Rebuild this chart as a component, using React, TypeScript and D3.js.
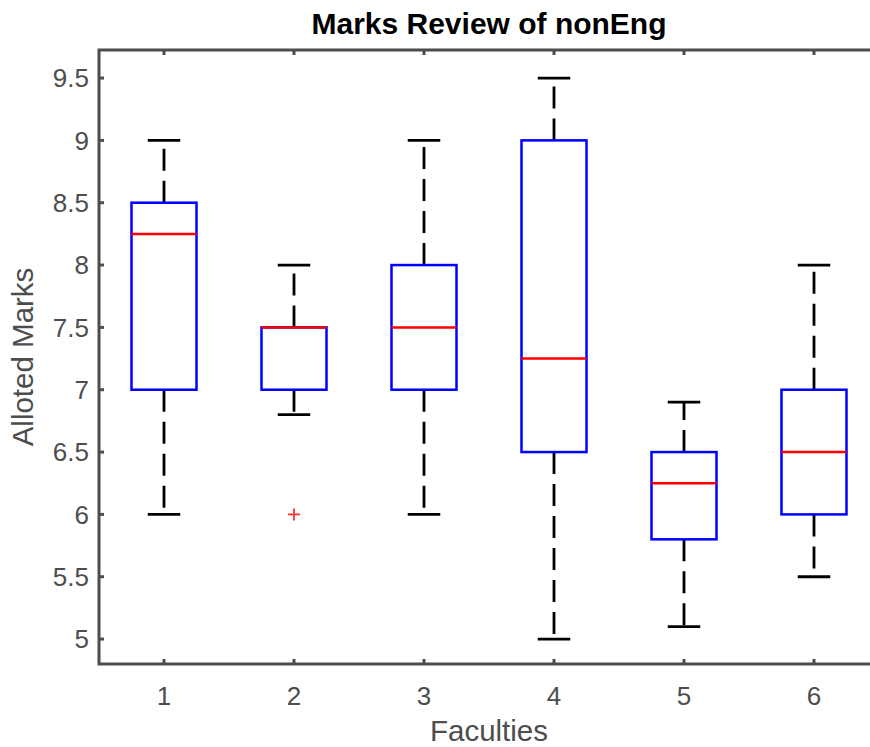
import React from "react";
import * as d3 from "d3";

const categories = [1, 2, 3, 4, 5, 6];
const lowerWhisker = [6, 6.8, 6, 5, 5.1, 5.5];
const q1 = [7, 7, 7, 6.5, 5.8, 6];
const medians = [8.25, 7.5, 7.5, 7.25, 6.25, 6.5];
const q3 = [8.5, 7.5, 8, 9, 6.5, 7];
const upperWhisker = [9, 8, 9, 9.5, 6.9, 8];
const outliers = [{ cat: 2, value: 6 }];
const yTicks = [5, 5.5, 6, 6.5, 7, 7.5, 8, 8.5, 9, 9.5];
const xTicks = [1, 2, 3, 4, 5, 6];
const title = "Marks Review of nonEng";
const xLabel = "Faculties";
const yLabel = "Alloted Marks";

export default function App() {
  const W = 870;
  const H = 747;
  const left = 99;
  const right = 879;
  const top = 50;
  const bottom = 664;
  const x = d3.scaleLinear().domain([0.5, 6.5]).range([left, right]);
  const y = d3.scaleLinear().domain([4.8, 9.725]).range([bottom, top]);
  const font = "'Liberation Sans', Arial, Helvetica, sans-serif";
  const axisColor = "#4d4d4d";
  const boxHalf = 0.25;
  const capHalf = 0.125;

  return (
    <svg
      width={W}
      height={H}
      style={{ position: "absolute", left: 0, top: 0, background: "#fff" }}
      fontFamily={font}
    >
      <rect x={0} y={0} width={W} height={H} fill="#fff" />
      {categories.map((c, i) => {
        const cx = x(c);
        return (
          <g key={c}>
            <line x1={cx} x2={cx} y1={y(q3[i])} y2={y(upperWhisker[i])} stroke="#000" strokeWidth={2.8} strokeDasharray="22 10" />
            <line x1={cx} x2={cx} y1={y(q1[i])} y2={y(lowerWhisker[i])} stroke="#000" strokeWidth={2.8} strokeDasharray="22 10" />
            <line x1={x(c - capHalf)} x2={x(c + capHalf)} y1={y(upperWhisker[i])} y2={y(upperWhisker[i])} stroke="#000" strokeWidth={2.8} />
            <line x1={x(c - capHalf)} x2={x(c + capHalf)} y1={y(lowerWhisker[i])} y2={y(lowerWhisker[i])} stroke="#000" strokeWidth={2.8} />
            <rect
              x={x(c - boxHalf)}
              y={y(q3[i])}
              width={x(c + boxHalf) - x(c - boxHalf)}
              height={y(q1[i]) - y(q3[i])}
              fill="none"
              stroke="#0000ff"
              strokeWidth={2.5}
            />
            <line x1={x(c - boxHalf)} x2={x(c + boxHalf)} y1={y(medians[i])} y2={y(medians[i])} stroke="#ff0000" strokeWidth={2.5} />
          </g>
        );
      })}
      {outliers.map((o, i) => (
        <g key={i} stroke="#ff3030" strokeWidth={1.8}>
          <line x1={x(o.cat) - 6} x2={x(o.cat) + 6} y1={y(o.value)} y2={y(o.value)} />
          <line x1={x(o.cat)} x2={x(o.cat)} y1={y(o.value) - 6} y2={y(o.value) + 6} />
        </g>
      ))}
      <path d={`M${right},${top}H${left}V${bottom}H${right}`} fill="none" stroke={axisColor} strokeWidth={3} />
      {xTicks.map((t) => (
        <g key={t}>
          <line x1={x(t)} x2={x(t)} y1={bottom} y2={bottom - 5} stroke={axisColor} strokeWidth={3} />
          <line x1={x(t)} x2={x(t)} y1={top} y2={top + 5} stroke={axisColor} strokeWidth={3} />
          <text x={x(t)} y={705} textAnchor="middle" fontSize={26} fill={axisColor}>
            {t}
          </text>
        </g>
      ))}
      {yTicks.map((t) => (
        <g key={t}>
          <line x1={left} x2={left + 5} y1={y(t)} y2={y(t)} stroke={axisColor} strokeWidth={3} />
          <text x={89} y={y(t) + 9.4} textAnchor="end" fontSize={26} fill={axisColor}>
            {String(t)}
          </text>
        </g>
      ))}
      <text x={(left + right) / 2} y={34} textAnchor="middle" fontSize={30} fontWeight="bold" fill="#000">
        {title}
      </text>
      <text x={(left + right) / 2} y={741} textAnchor="middle" fontSize={29.5} fill={axisColor}>
        {xLabel}
      </text>
      <text
        transform={`translate(33,${(top + bottom) / 2}) rotate(-90)`}
        textAnchor="middle"
        fontSize={29.5}
        fill={axisColor}
      >
        {yLabel}
      </text>
    </svg>
  );
}
